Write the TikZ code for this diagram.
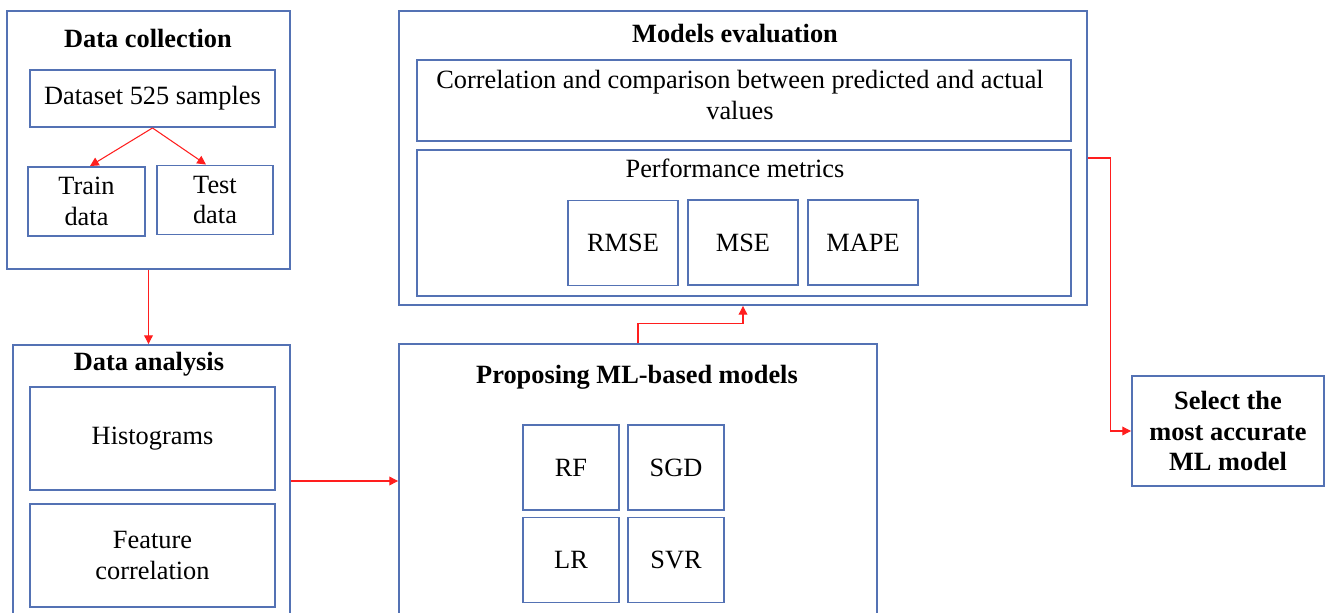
\documentclass[tikz,border=0pt]{standalone}
\usepackage{fontspec}
\setmainfont{Liberation Serif}
\usetikzlibrary{arrows.meta}
\definecolor{cBox}{RGB}{84,114,180}
\definecolor{cArrow}{RGB}{255,30,30}
\tikzset{
    box/.style={draw=cBox, line width=1.1pt, inner sep=0pt, align=center},
    lbl/.style={font=\fontsize{15}{17.5}\selectfont\bfseries},
    arr/.style={draw=cArrow, line width=0.6pt, -{Triangle[width=5pt,length=5pt]}}
}

\begin{document}
\begin{tikzpicture}[x=0.02cm, y=-0.02cm, font=\fontsize{15}{17.5}\selectfont]
        \useasboundingbox (0,0) rectangle (1325,612);
        \clip (0,0) rectangle (1325,612);
        % data collection
        \node[box, minimum width=5.66cm, minimum height=5.16cm] (dc) at (148.5,140) {};
        \node[lbl] (dctitle) at (148,38) {Data collection};
        \node[box, minimum width=4.9cm, minimum height=1.14cm] (dataset) at (152.5,98.5) {Dataset 525 samples};
        \node[box, minimum width=2.34cm, minimum height=1.38cm] (train) at (86.5,201.5) {Train\\data};
        \node[box, minimum width=2.32cm, minimum height=1.38cm] (test) at (215,200) {Test\\data};
        \draw[arr] (dataset.south) -- ([xshift=0.07cm]train.north);
        \draw[arr] (dataset.south) -- ([xshift=-0.18cm]test.north);
        % data analysis
        \node[box, minimum width=5.54cm, minimum height=5.6cm] (da) at (151.5,485) {};
        \node[lbl] (datitle) at (149,364) {Data analysis};
        \node[box, minimum width=4.9cm, minimum height=2.06cm] (hist) at (152.5,438.5) {Histograms};
        \node[box, minimum width=4.9cm, minimum height=2.06cm] (feat) at (152.5,555.5) {Feature\\correlation};
        \draw[arr] (dc.south) -- (dc.south |- da.north);
        % proposed models
        \node[box, minimum width=9.56cm, minimum height=5.62cm] (prop) at (638,484.5) {};
        \node[lbl] (proptitle) at (637,377) {Proposing ML-based models};
        \node[box, minimum width=1.92cm, minimum height=1.7cm] (rf) at (571,467.5) {RF};
        \node[box, minimum width=1.92cm, minimum height=1.7cm] (sgd) at (676,467.5) {SGD};
        \node[box, minimum width=1.92cm, minimum height=1.7cm] (lr) at (571,560) {LR};
        \node[box, minimum width=1.92cm, minimum height=1.7cm] (svr) at (676,560) {SVR};
        \draw[arr] ([yshift=0.08cm]da.east) -- ([yshift=0.08cm]da.east -| prop.west);
        % models evaluation
        \node[box, minimum width=13.76cm, minimum height=5.88cm] (me) at (743,158) {};
        \node[lbl] (metitle) at (735,34) {Models evaluation};
        \node[box, minimum width=13.08cm, minimum height=1.62cm] (corr) at (744,100.5) {};
        \node[align=center] (corrtxt) at (740,95) {Correlation and comparison between predicted and actual\\values};
        \node[box, minimum width=13.08cm, minimum height=2.92cm] (perf) at (744,223) {};
        \node (perftitle) at (735,168) {Performance metrics};
        \node[box, minimum width=2.2cm, minimum height=1.7cm] (rmse) at (623,243) {RMSE};
        \node[box, minimum width=2.2cm, minimum height=1.7cm] (mse) at (743,242.5) {MSE};
        \node[box, minimum width=2.2cm, minimum height=1.7cm] (mape) at (863,242.5) {MAPE};
        \draw[arr] (prop.north) -- ++(0,-20) -| (me.south);
        % selection
        \node[box, lbl, minimum width=3.84cm, minimum height=2.2cm] (sel) at (1228,431) {Select the\\most accurate\\ML model};
        \draw[arr] (me.east) -- ++(23,0) |- (sel.west);
        \end{tikzpicture}
\end{document}
